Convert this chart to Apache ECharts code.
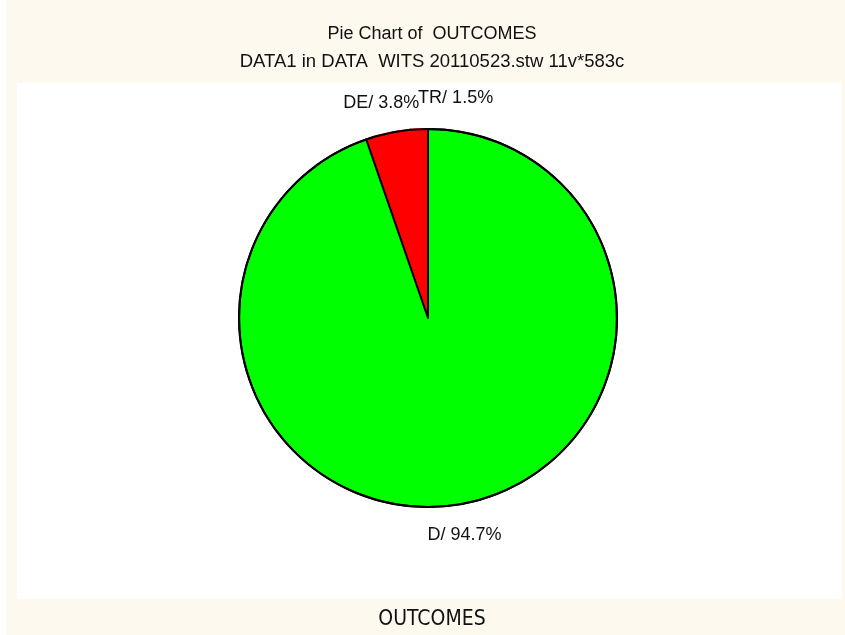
<!DOCTYPE html>
<html>
<head>
<meta charset="utf-8">
<script src="https://cdn.jsdelivr.net/npm/echarts@6/dist/echarts.min.js"></script>
<style>
  html, body { margin: 0; padding: 0; background: #ffffff; }
  #chart { width: 845px; height: 635px; }
</style>
</head>
<body>
<div id="chart"></div>
<script>
// ---- data ----
const categories = ['TR', 'DE', 'D'];
const percents = [1.5, 3.8, 94.7];
const sliceColors = ['#ff0000', '#ff0000', '#00ff00'];
const titleText = 'Pie Chart of  OUTCOMES';
const subtitleText = 'DATA1 in DATA  WITS 20110523.stw 11v*583c';
const axisTitle = 'OUTCOMES';

const chart = echarts.init(document.getElementById('chart'), null, { renderer: 'canvas' });

const cx = 428, cy = 318, R = 189;
const total = percents.reduce((a, b) => a + b, 0);
// mid angles (degrees, counter-clockwise from top)
const mids = [];
let acc = 0;
percents.forEach(p => { mids.push((acc + p / 2) / total * 360); acc += p; });
const labelNudge = [38, 0, 0];
const labelRadius = 220;

const font = '"Liberation Sans", Arial, sans-serif';

const option = {
  backgroundColor: '#fef9ee',
  animation: false,
  graphic: [
    { type: 'rect', z: 0, shape: { x: 0, y: 0, width: 6, height: 635 }, style: { fill: '#ffffff' } },
    { type: 'rect', z: 0, shape: { x: 17, y: 83, width: 825, height: 516 }, style: { fill: '#ffffff' } },
    { type: 'text', z: 5, x: 432, y: 34,
      style: { text: titleText, fill: '#111', font: '18px ' + font, textAlign: 'center', textVerticalAlign: 'middle' } },
    { type: 'text', z: 5, x: 432, y: 62,
      style: { text: subtitleText, fill: '#111', font: '18.5px ' + font, textAlign: 'center', textVerticalAlign: 'middle' } },
    { type: 'text', z: 5, x: 432, y: 620,
      style: { text: axisTitle, fill: '#111', font: '21px "Liberation Sans Narrow", "DejaVu Sans Condensed", sans-serif', textAlign: 'center', textVerticalAlign: 'middle' } }
  ],
  series: [
    {
      type: 'pie',
      center: [cx, cy],
      radius: R,
      startAngle: 90,
      clockwise: false,
      avoidLabelOverlap: false,
      silent: true,
      z: 2,
      label: {
        show: true,
        position: 'outside',
        fontFamily: font,
        fontSize: 18,
        color: '#111',
        formatter: p => p.name + '/ ' + p.value.toFixed(1) + '%'
      },
      labelLine: { show: false },
      labelLayout: function (params) {
        const i = params.dataIndex;
        const a = mids[i] * Math.PI / 180;
        return {
          x: cx - labelRadius * Math.sin(a) + labelNudge[i],
          y: cy - labelRadius * Math.cos(a),
          align: 'center',
          verticalAlign: 'middle'
        };
      },
      data: categories.map((c, i) => ({
        name: c,
        value: percents[i],
        itemStyle: {
          color: sliceColors[i],
          borderColor: i < 2 ? sliceColors[i] : '#000',
          borderWidth: 2
        }
      }))
    },
    {
      type: 'pie',
      center: [cx, cy],
      radius: R,
      startAngle: 90,
      silent: true,
      z: 3,
      label: { show: false },
      labelLine: { show: false },
      itemStyle: { color: 'rgba(0,0,0,0)', borderColor: '#000', borderWidth: 2 },
      data: [{ name: 'outline', value: total }]
    }
  ]
};
chart.setOption(option);
</script>
</body>
</html>
